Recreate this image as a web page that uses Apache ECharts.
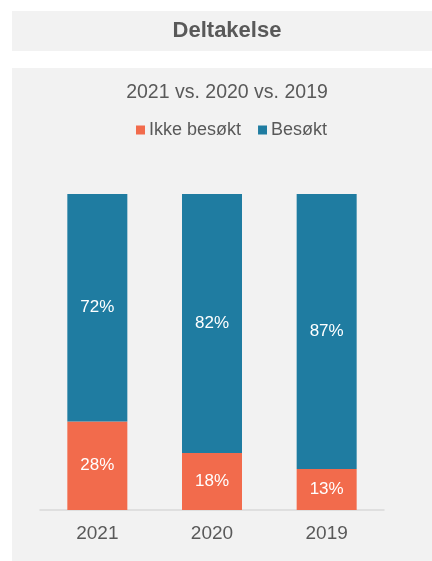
<!DOCTYPE html>
<html>
<head>
<meta charset="utf-8">
<script src="https://cdn.jsdelivr.net/npm/echarts@6/dist/echarts.min.js"></script>
<style>
html,body{margin:0;padding:0;background:#fff;}
#c{width:432px;height:561px;}
</style>
</head>
<body>
<div id="c"></div>
<script>
const categories = ['2021', '2020', '2019'];
const ikkeBesokt = [28, 18, 13];
const besokt = [72, 82, 87];
const seriesNames = ['Ikke besøkt', 'Besøkt'];

const FONT = '"Liberation Sans", Arial, sans-serif';
const TXT = '#595959';

const chart = echarts.init(document.getElementById('c'), null, {renderer: 'canvas'});
chart.setOption({
  animation: false,
  backgroundColor: '#ffffff',
  textStyle: {fontFamily: FONT},
  graphic: [
    {type: 'rect', z: -10, shape: {x: 12, y: 11, width: 420, height: 40}, style: {fill: '#F2F2F2'}},
    {type: 'rect', z: -10, shape: {x: 12, y: 68, width: 420, height: 493}, style: {fill: '#F2F2F2'}},
    {type: 'text', x: 227, y: 31, style: {text: 'Deltakelse', font: 'bold 22px ' + FONT, fill: TXT, textAlign: 'center', textVerticalAlign: 'middle'}},
    {type: 'text', x: 227, y: 93, style: {text: '2021 vs. 2020 vs. 2019', font: '19.5px ' + FONT, fill: TXT, textAlign: 'center', textVerticalAlign: 'middle'}}
  ],
  legend: {
    left: 136,
    top: 121,
    itemWidth: 9,
    itemHeight: 9,
    itemGap: 17,
    icon: 'rect',
    padding: 0,
    textStyle: {fontSize: 18, color: TXT, fontFamily: FONT, lineHeight: 18, padding: [0, 0, 0, -1]},
    data: seriesNames
  },
  grid: {left: 40, right: 48, top: 194, bottom: 51, containLabel: false},
  xAxis: {
    type: 'category',
    data: categories,
    axisLine: {lineStyle: {color: '#D9D9D9', width: 1.5}},
    axisTick: {show: false},
    axisLabel: {fontSize: 19, color: TXT, margin: 14, fontFamily: FONT}
  },
  yAxis: {
    type: 'value', min: 0, max: 100, show: false,
    splitLine: {show: false}
  },
  series: [
    {
      name: seriesNames[0], type: 'bar', stack: 'a', barWidth: 60,
      data: ikkeBesokt,
      itemStyle: {color: '#F26B4C'},
      label: {show: true, position: 'inside', formatter: '{c}%', color: '#fff', fontSize: 17, fontFamily: FONT}
    },
    {
      name: seriesNames[1], type: 'bar', stack: 'a', barWidth: 60,
      data: besokt,
      itemStyle: {color: '#1F7CA1'},
      label: {show: true, position: 'inside', formatter: '{c}%', color: '#fff', fontSize: 17, fontFamily: FONT}
    }
  ]
});
</script>
</body>
</html>
